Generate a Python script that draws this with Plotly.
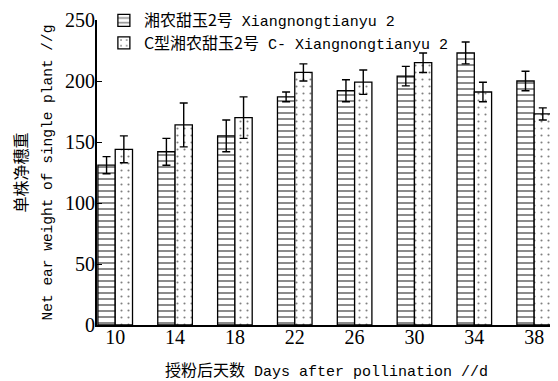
import plotly.graph_objects as go

days = [10, 14, 18, 22, 26, 30, 34, 38]
normal_vals = [131, 142, 155, 187, 192, 204, 223, 200]
normal_err = [7, 11, 13, 4, 9, 8, 9, 8]
ctype_vals = [144, 164, 170, 207, 199, 215, 191, 173]
ctype_err = [11, 18, 17, 7, 10, 8, 8, 5]
names_cn = ["湘农甜玉2号", "C型湘农甜玉2号"]
names_en = ["Xiangnongtianyu 2", "C- Xiangnongtianyu 2"]
xtitle_cn, xtitle_en = "授粉后天数", "Days after pollination //d"
ytitle_cn, ytitle_en = "单株净穗重", "Net ear weight of single plant //g"
yticks = [0, 50, 100, 150, 200, 250]

CJK = "Noto Sans CJK SC"
MONO = "Liberation Mono"
SERIF = "Liberation Serif"


def mixed(cn, en, cn_size, en_size):
    return (f'<span style="font-family:\'{CJK}\';font-size:{cn_size}px">{cn}</span>'
            f'<span style="font-family:\'{MONO}\';font-size:{en_size}px"> {en}</span>')


fig = go.Figure()
fig.add_trace(go.Bar(
    x=days, y=normal_vals, name=mixed(names_cn[0], names_en[0], 16, 15),
    marker=dict(color="white", line=dict(color="black", width=1.3),
                pattern=dict(shape="-", fgcolor="black", bgcolor="white",
                             size=6, solidity=0.3, fillmode="overlay")),
    error_y=dict(type="data", array=normal_err, color="black", thickness=1.4, width=4),
))
fig.add_trace(go.Bar(
    x=days, y=ctype_vals, name=mixed(names_cn[1], names_en[1], 16, 15),
    marker=dict(color="white", line=dict(color="black", width=1.3),
                pattern=dict(shape=".", fgcolor="black", bgcolor="white",
                             size=7, solidity=0.07, fillmode="overlay")),
    error_y=dict(type="data", array=ctype_err, color="black", thickness=1.4, width=4),
))

# The page body has an 8px default margin, so the figure is drawn 8px smaller.
fig.update_layout(
    width=550, height=373,
    margin=dict(l=89, r=2, t=12, b=56, autoexpand=False),
    paper_bgcolor="white", plot_bgcolor="white",
    barmode="group", bargap=0.422, bargroupgap=0,
    font=dict(family=f"{SERIF}, {CJK}", size=15, color="black"),
    showlegend=True,
    legend=dict(x=0.015, y=1.052, xanchor="left", yanchor="top",
                bgcolor="rgba(0,0,0,0)", font=dict(size=15),
                tracegroupgap=0, itemwidth=30),
    xaxis=dict(range=[8.783, 39.46], tickvals=days, ticktext=[str(d) for d in days],
               showline=True, linecolor="black", linewidth=2, ticks="", ticklen=0,
               ticklabelstandoff=-7,
               showgrid=False, zeroline=False, automargin=True,
               title=dict(text=mixed(xtitle_cn, xtitle_en, 16, 15), standoff=23,
                          font=dict(size=16)),
               tickfont=dict(size=20, family=SERIF)),
    yaxis=dict(range=[0, 250], tickvals=yticks, showline=True,
               linecolor="black", linewidth=2, ticks="inside", ticklen=5,
               ticklabelstandoff=-4,
               tickcolor="black", showgrid=False, zeroline=False, automargin=True,
               tickfont=dict(size=20, family=SERIF),
               title=dict(text=(f'<span style="font-family:\'{CJK}\';font-size:16px">{ytitle_cn}</span><br>'
                                f'<span style="font-family:\'{MONO}\';font-size:14.5px">{ytitle_en}</span>'),
                          standoff=9, font=dict(size=19))),
)

fig.write_html("out.html")
